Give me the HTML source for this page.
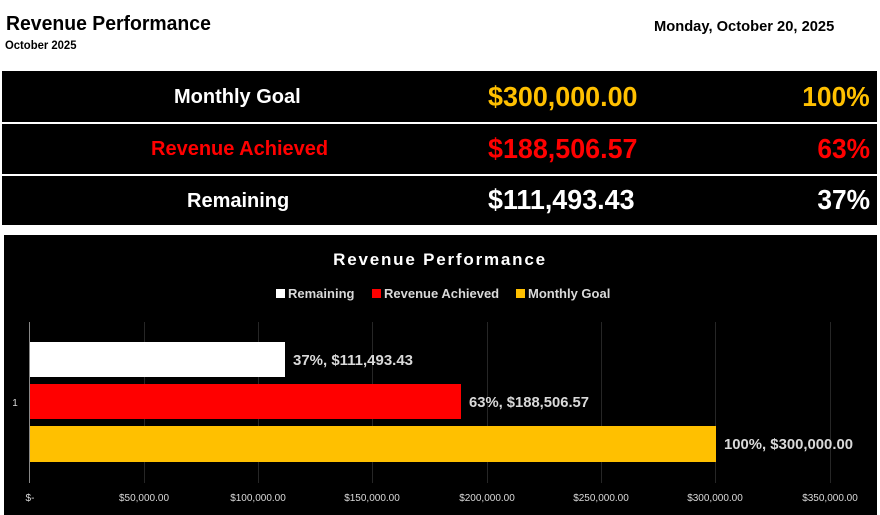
<!DOCTYPE html>
<html><head><meta charset="utf-8"><style>
body{margin:0;width:880px;height:515px;background:#fff;position:relative;overflow:hidden;font-family:"Liberation Sans",sans-serif}
.t{position:absolute;white-space:nowrap}
.row{position:absolute;left:2px;width:875px;background:#000;font-weight:bold;font-size:22px}
</style></head><body>
<div class="t" style="left:6px;top:13px;font-size:20px;font-weight:bold;transform:scaleX(0.97);transform-origin:left">Revenue Performance</div>
<div class="t" style="left:5px;top:38px;font-size:12px;font-weight:bold;transform:scaleX(0.94);transform-origin:left">October 2025</div>
<div class="t" style="left:654px;top:18px;font-size:15px;font-weight:bold;transform:scaleX(0.98);transform-origin:left">Monday, October 20, 2025</div>

<div class="row" style="top:71px;height:51px;color:#fff">
 <div class="t" style="left:172px;top:15px;font-size:20px">Monthly Goal</div>
 <div class="t" style="left:486px;top:10px;font-size:28px;color:#ffc000;transform:scaleX(0.96);transform-origin:left">$300,000.00</div>
 <div class="t" style="right:7px;top:10px;font-size:28px;color:#ffc000;transform:scaleX(0.94);transform-origin:right">100%</div>
</div>
<div class="row" style="top:124px;height:50px;color:#ff0000">
 <div class="t" style="left:149px;top:14px;font-size:20px">Revenue Achieved</div>
 <div class="t" style="left:486px;top:9px;font-size:28px;transform:scaleX(0.96);transform-origin:left">$188,506.57</div>
 <div class="t" style="right:7px;top:9px;font-size:28px;transform:scaleX(0.94);transform-origin:right">63%</div>
</div>
<div class="row" style="top:176px;height:49px;color:#fff">
 <div class="t" style="left:185px;top:14px;font-size:20px">Remaining</div>
 <div class="t" style="left:486px;top:8px;font-size:28px;transform:scaleX(0.96);transform-origin:left">$111,493.43</div>
 <div class="t" style="right:7px;top:8px;font-size:28px;transform:scaleX(0.94);transform-origin:right">37%</div>
</div>

<svg style="position:absolute;left:0;top:0" width="880" height="515" font-family="Liberation Sans, sans-serif">
<rect x="4" y="235" width="873" height="280" fill="#000"/>
<text x="440" y="265" fill="#fff" font-size="17" font-weight="bold" text-anchor="middle" letter-spacing="1.8">Revenue Performance</text>
<g font-size="13" fill="#d9d9d9" font-weight="bold">
<rect x="276" y="289" width="9" height="9" fill="#fff"/><text x="288" y="298">Remaining</text>
<rect x="372" y="289" width="9" height="9" fill="#f00"/><text x="384" y="298">Revenue Achieved</text>
<rect x="516" y="289" width="9" height="9" fill="#ffc000"/><text x="528" y="298">Monthly Goal</text>
</g>
<g stroke="#262626" stroke-width="1">
<line x1="144.5" y1="322" x2="144.5" y2="483"/><line x1="258.5" y1="322" x2="258.5" y2="483"/>
<line x1="372.5" y1="322" x2="372.5" y2="483"/><line x1="487.5" y1="322" x2="487.5" y2="483"/>
<line x1="601.5" y1="322" x2="601.5" y2="483"/><line x1="715.5" y1="322" x2="715.5" y2="483"/>
<line x1="830.5" y1="322" x2="830.5" y2="483"/>
</g>
<line x1="29.5" y1="322" x2="29.5" y2="483" stroke="#888"/>
<rect x="30" y="342" width="255" height="35" fill="#fff"/>
<rect x="30" y="384" width="431" height="35" fill="#f00"/>
<rect x="30" y="426" width="686" height="36" fill="#ffc000"/>
<g font-size="15" font-weight="bold" fill="#d9d9d9">
<text x="293" y="365" textLength="120" lengthAdjust="spacingAndGlyphs">37%, $111,493.43</text>
<text x="469" y="407" textLength="120" lengthAdjust="spacingAndGlyphs">63%, $188,506.57</text>
<text x="724" y="449" textLength="129" lengthAdjust="spacingAndGlyphs">100%, $300,000.00</text>
</g>
<g font-size="10" fill="#d9d9d9" text-anchor="middle">
<text x="15" y="406">1</text>
<text x="30" y="501">$-</text><text x="144" y="501">$50,000.00</text><text x="258" y="501">$100,000.00</text>
<text x="372" y="501">$150,000.00</text><text x="487" y="501">$200,000.00</text><text x="601" y="501">$250,000.00</text>
<text x="715" y="501">$300,000.00</text><text x="830" y="501">$350,000.00</text>
</g>
</svg>
</body></html>
